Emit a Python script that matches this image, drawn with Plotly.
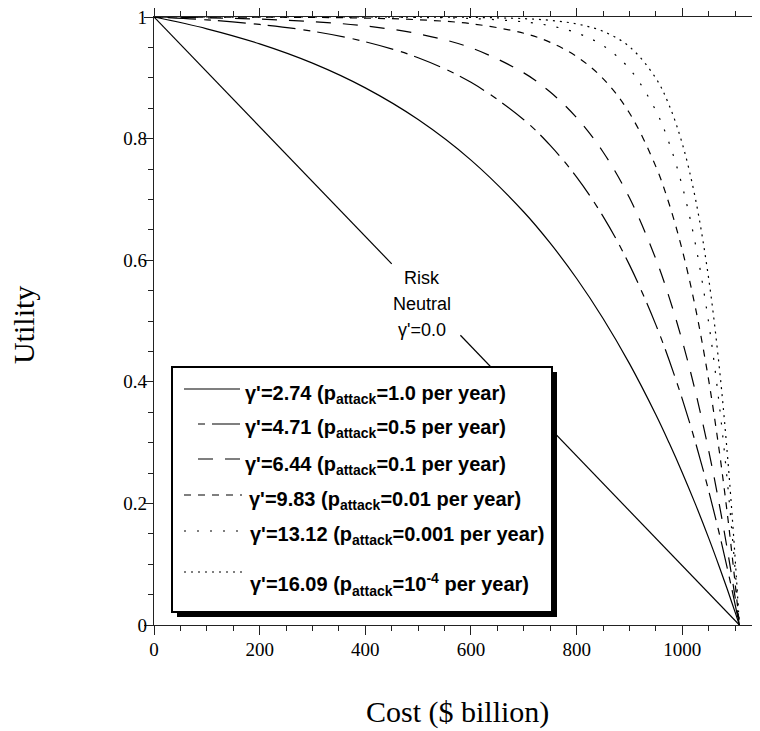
import plotly.graph_objects as go

# ---------------- data ----------------
cost = [0, 100, 200, 300, 400, 500, 600, 700, 750, 800, 850, 900, 950, 975,
        1000, 1025, 1050, 1070, 1085, 1095, 1102, 1108]

u_274 = [1.0, 0.9806, 0.9558, 0.9241, 0.8834, 0.8313, 0.7646, 0.6793, 0.6280, 0.5699, 0.5042,
         0.4299, 0.3458, 0.2996, 0.2506, 0.1984, 0.1429, 0.0959, 0.0591, 0.0338, 0.0158, 0.0]
u_471 = [1.0, 0.9952, 0.9878, 0.9766, 0.9593, 0.9330, 0.8926, 0.8310, 0.7888, 0.7366, 0.6721,
         0.5923, 0.4936, 0.4358, 0.3715, 0.3000, 0.2205, 0.1505, 0.0940, 0.0542, 0.0254, 0.0]
u_644 = [1.0, 0.9987, 0.9965, 0.9925, 0.9853, 0.9724, 0.9493, 0.9081, 0.8766, 0.8344, 0.7780,
         0.7026, 0.6018, 0.5393, 0.4669, 0.3833, 0.2867, 0.1985, 0.1253, 0.0729, 0.0344, 0.0]
u_983 = [1.0, 0.9999, 0.9997, 0.9993, 0.9982, 0.9955, 0.9890, 0.9733, 0.9583, 0.9350, 0.8987,
         0.8421, 0.7539, 0.6928, 0.6164, 0.5212, 0.4023, 0.2862, 0.1846, 0.1089, 0.0519, 0.0]
u_1312 = [1.0, 1.0, 1.0, 0.9999, 0.9998, 0.9993, 0.9976, 0.9920, 0.9856, 0.9739, 0.9529,
          0.9148, 0.8460, 0.7930, 0.7216, 0.6258, 0.4968, 0.3624, 0.2384, 0.1426, 0.0686, 0.0]
u_1609 = [1.0, 1.0, 1.0, 1.0, 1.0, 0.9999, 0.9994, 0.9973, 0.9945, 0.9886, 0.9764,
          0.9512, 0.8992, 0.8551, 0.7916, 0.7004, 0.5693, 0.4241, 0.2840, 0.1720, 0.0835, 0.0]

# risk-neutral straight line, drawn in two pieces around its label
neutral_x1 = [0, 450]
neutral_y1 = [1.0, 0.594]
neutral_x2 = [580, 1108]
neutral_y2 = [0.4765, 0.0]

series_values = [u_274, u_471, u_644, u_983, u_1312, u_1609]
gamma_labels = ["2.74", "4.71", "6.44", "9.83", "13.12", "16.09"]
p_labels = ["1.0", "0.5", "0.1", "0.01", "0.001", "10<sup>-4</sup>"]
neutral_label = ["Risk", "Neutral", "γ'=0.0"]

x_tick_vals = [0, 200, 400, 600, 800, 1000]
y_tick_vals = [0, 0.2, 0.4, 0.6, 0.8, 1]

# ---------------- styling ----------------
# The page body has an 8px margin, so the figure is made 8px smaller and
# all layout positions below are given in window (screenshot) pixels.
OFF = 8
W, H = 760 - OFF, 731 - OFF
PLOT_L, PLOT_R, PLOT_T, PLOT_B = 154, 760, 17, 625   # window pixels
L, R, T, B = PLOT_L - OFF, 760 - PLOT_R, PLOT_T - OFF, 731 - PLOT_B
PW, PH = PLOT_R - PLOT_L, PLOT_B - PLOT_T


def px(x):
    return (x - PLOT_L) / PW


def py(y):
    return (PLOT_B - y) / PH


dashes = ["solid", "7px,7px,28px,8px", "15px,12px", "7px,7px", "2px,11px", "2px,5px"]
LW = 1.2
SERIF = "Liberation Serif, Times New Roman, serif"
SANS = "Liberation Sans, Arial, sans-serif"

fig = go.Figure()

for vals, dsh in zip(series_values, dashes):
    fig.add_trace(go.Scatter(x=cost, y=vals, mode="lines",
                             line=dict(color="black", width=LW, dash=dsh, shape="spline"),
                             showlegend=False, hoverinfo="skip"))

for xs, ys in [(neutral_x1, neutral_y1), (neutral_x2, neutral_y2)]:
    fig.add_trace(go.Scatter(x=xs, y=ys, mode="lines",
                             line=dict(color="black", width=LW),
                             showlegend=False, hoverinfo="skip"))

axis_common = dict(showgrid=False, zeroline=False, showline=True, linecolor="#222",
                   linewidth=1.2, ticks="outside", ticklen=9, tickwidth=1.2,
                   tickcolor="#222", ticklabeloverflow="allow",
                   tickfont=dict(family=SERIF, size=19, color="black"))

fig.update_xaxes(range=[0, PW / 0.5283], tickvals=x_tick_vals, mirror="ticks",
                 ticklabelstandoff=-2,
                 minor=dict(dtick=50, tick0=0, ticklen=5, tickwidth=1.2, tickcolor="#222",
                            ticks="outside"),
                 **axis_common)
fig.update_yaxes(range=[0, 1], tickvals=y_tick_vals, mirror=False,
                 ticklabelstandoff=-7,
                 minor=dict(dtick=0.05, tick0=0, ticklen=5, tickwidth=1.2, tickcolor="#222",
                            ticks="outside"),
                 **axis_common)

shapes = []
# legend shadow and box
shapes.append(dict(type="rect", xref="paper", yref="paper",
                   x0=px(177), x1=px(557), y0=py(617), y1=py(372),
                   fillcolor="black", line=dict(width=0)))
shapes.append(dict(type="rect", xref="paper", yref="paper",
                   x0=px(172), x1=px(552), y0=py(612), y1=py(367),
                   fillcolor="white", line=dict(color="black", width=2)))

sample_rows = [(184, 240, 389), (198, 240, 424), (198, 240, 459),
               (184, 242, 495), (184, 240, 531), (184, 242, 572)]
for (x0, x1, yy), dsh in zip(sample_rows, dashes):
    shapes.append(dict(type="line", xref="paper", yref="paper",
                       x0=px(x0), x1=px(x1), y0=py(yy), y1=py(yy),
                       line=dict(color="black", width=LW, dash=dsh)))

annotations = []
text_rows = [(243, 394), (243, 429), (243, 465), (247, 500), (248, 535), (248, 584)]
for (tx, ty), g, p in zip(text_rows, gamma_labels, p_labels):
    annotations.append(dict(xref="paper", yref="paper", x=px(tx), y=py(ty),
                            xanchor="left", yanchor="middle", showarrow=False,
                            text=f"<b>γ'={g} (p<sub>attack</sub>={p} per year)</b>",
                            font=dict(family=SANS, size=20, color="black")))

for txt, ty in zip(neutral_label, [278, 304, 330]):
    annotations.append(dict(xref="paper", yref="paper", x=px(422), y=py(ty),
                            xanchor="center", yanchor="middle", showarrow=False,
                            text=txt, font=dict(family=SANS, size=18, color="black")))

annotations.append(dict(xref="paper", yref="paper", x=px(23), y=py(325),
                        xanchor="center", yanchor="middle", showarrow=False, textangle=-90,
                        text="Utility", font=dict(family=SERIF, size=30, color="black")))
annotations.append(dict(xref="paper", yref="paper", x=px(457), y=py(712),
                        xanchor="center", yanchor="middle", showarrow=False,
                        text="Cost ($ billion)", font=dict(family=SERIF, size=30, color="black")))

fig.update_layout(width=W, height=H, margin=dict(l=L, r=R, t=T, b=B, autoexpand=False),
                  paper_bgcolor="white", plot_bgcolor="white",
                  shapes=shapes, annotations=annotations, showlegend=False)

fig.write_html("out.html")
